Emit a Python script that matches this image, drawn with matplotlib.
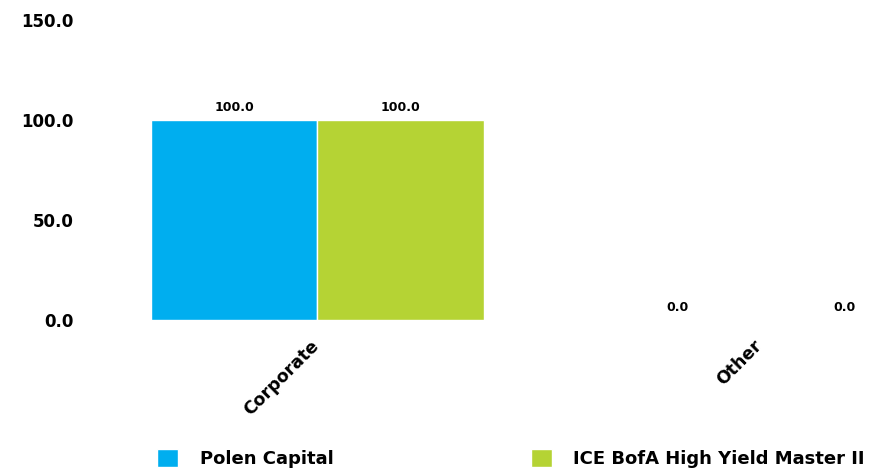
import matplotlib.pyplot as plt
import matplotlib.transforms as mtransforms
import numpy as np

# данні з графіка
categories = ['Corporate', 'Other']
series_names = ['Polen Capital', 'ICE BofA High Yield Master II']
polen = [100.0, 0.0]
ice = [100.0, 0.0]
y_ticks = [0, 50, 100, 150]

blue = '#00AEEF'
green = '#B5D334'

fig = plt.figure(figsize=(8.7, 4.69), dpi=100)
ax = fig.add_axes([95.5 / 870, 149 / 469, 887.5 / 870, 300 / 469])

x = np.arange(len(categories))
w = 0.375

b1 = ax.bar(x - w / 2, polen, w, color=blue, edgecolor='white', linewidth=1, label=series_names[0])
b2 = ax.bar(x + w / 2, ice, w, color=green, edgecolor='white', linewidth=1, label=series_names[1])

for bars in (b1, b2):
    ax.bar_label(bars, fmt='%.1f', padding=4, fontsize=9, fontweight='bold')

ax.set_xlim(-0.5, 1.5)
ax.set_ylim(0, 150)
ax.set_yticks(y_ticks)
ax.set_yticklabels([f'{v:.1f}' for v in y_ticks], fontsize=12, fontweight='bold')
ax.set_xticks(x)
ax.set_xticklabels(categories, fontsize=12.5, fontweight='bold', rotation=45,
                   ha='right', rotation_mode='anchor')
ax.tick_params(axis='y', length=0, pad=16)
ax.tick_params(axis='x', length=0, pad=12)
# трохи зсунути підписи вліво
shift = mtransforms.ScaledTranslation(-8 / 100, 0, fig.dpi_scale_trans)
for lbl in ax.get_xticklabels():
    lbl.set_transform(lbl.get_transform() + shift)
for s in ax.spines.values():
    s.set_visible(False)

# легенда знизу
fig.legend(handles=[b1, b2], loc='lower left', bbox_to_anchor=(150 / 870, -6 / 469),
           ncol=2, frameon=False, borderaxespad=0, handlelength=1.17, handleheight=1.17,
           handletextpad=1.2, columnspacing=10.9,
           prop={'weight': 'bold', 'size': 13})

fig.savefig('out.png', dpi=100)
